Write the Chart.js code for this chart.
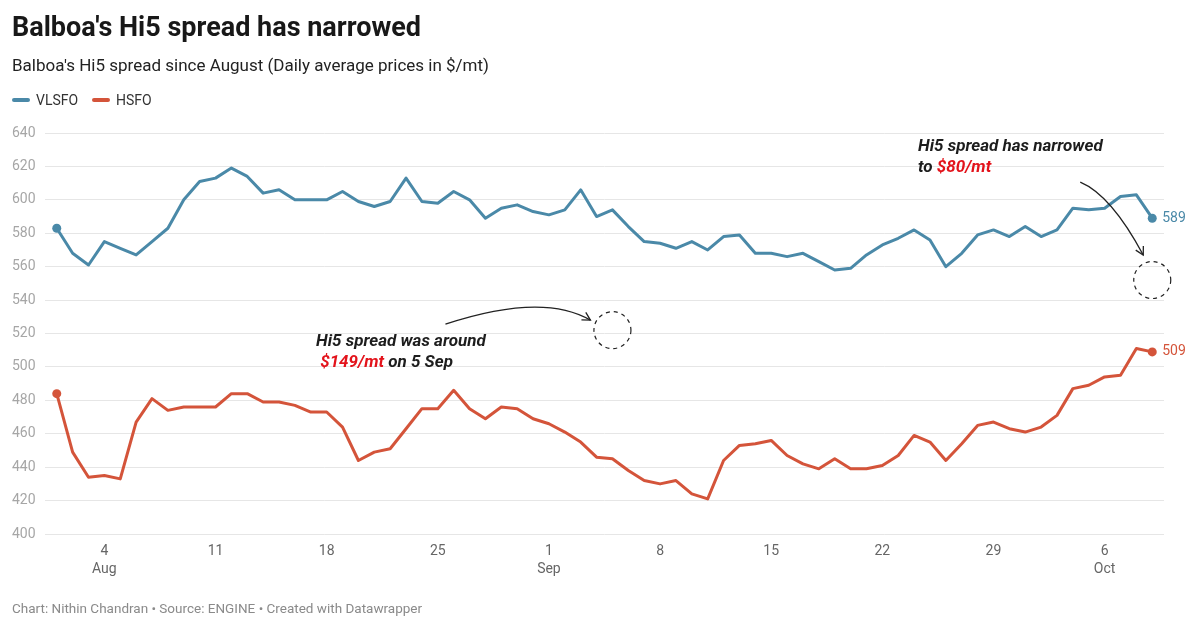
<!DOCTYPE html>
<html><head><meta charset="utf-8">
<script src="https://cdn.jsdelivr.net/npm/chart.js@4"></script>
<style>
body{margin:0;background:#fff;font-family:Roboto,sans-serif;}
#wrap{position:relative;width:1200px;height:630px;overflow:hidden;background:#fff;}
canvas{position:absolute;left:0;top:0;}
.t{position:absolute;white-space:nowrap;}
.ann{font-size:17px;font-weight:700;font-style:italic;line-height:21px;color:#1d1d1d;}
.red{color:#e3131b;}
.sw{position:absolute;width:18px;height:4px;border-radius:2px;}
</style></head><body>
<div id="wrap">
<canvas id="c" width="1200" height="630"></canvas>
<div class="t" style="left:12px;top:12px;font-size:27px;font-weight:700;line-height:31px;color:#181818">Balboa's Hi5 spread has narrowed</div>
<div class="t" style="left:12px;top:54px;font-size:17px;line-height:22px;color:#222">Balboa's Hi5 spread since August (Daily average prices in $/mt)</div>
<div class="sw" style="left:12px;top:98px;background:#4a89a8"></div>
<div class="t" style="left:36px;top:91px;font-size:14px;line-height:18px;color:#333">VLSFO</div>
<div class="sw" style="left:92px;top:98px;background:#d4543a"></div>
<div class="t" style="left:116px;top:91px;font-size:14px;line-height:18px;color:#333">HSFO</div>
<div class="t ann" style="left:316px;top:330px">Hi5 spread was around<br>&nbsp;<span class="red">$149/mt</span> on 5 Sep</div>
<div class="t ann" style="left:918px;top:135px">Hi5 spread has narrowed<br>to <span class="red">$80/mt</span></div>
<div class="t" style="left:12px;top:599px;font-size:13.5px;line-height:18px;color:#8a8a8a">Chart: Nithin Chandran • Source: ENGINE • Created with Datawrapper</div>
</div>
<script>
// Day labels (Aug 1 .. Oct 9), one per data point
const dayLabels = (function(){const out=[];const d=new Date(Date.UTC(2023,7,1));for(let i=0;i<70;i++){out.push(d.toISOString().slice(0,10));d.setUTCDate(d.getUTCDate()+1);}return out;})();
const vlsfo = [583,568,561,575,571,567,575,583,600,611,
               613,619,614,604,606,600,600,600,605,599,
               596,599,613,599,598,605,600,589,595,597,
               593,591,594,606,590,594,584,575,574,571,
               575,570,578,579,568,568,566,568,563,558,
               559,567,573,577,582,576,560,568,579,582,
               578,584,578,582,595,594,595,602,603,589];
const hsfo  = [484,449,434,435,433,467,481,474,476,476,
               476,484,484,479,479,477,473,473,464,444,
               449,451,463,475,475,486,475,469,476,475,
               469,466,461,455,446,445,438,432,430,432,
               424,421,444,453,454,456,447,442,439,445,
               439,439,441,447,459,455,444,454,465,467,
               463,461,464,471,487,489,494,495,511,509];
const xTickDays = [3,10,17,24,31,38,45,52,59,66];
const xTickLabels = [["4","Aug"],["11"],["18"],["25"],["1","Sep"],["8"],["15"],["22"],["29"],["6","Oct"]];
const yTicks = [400,420,440,460,480,500,520,540,560,580,600,620,640];

const BLUE = '#4a89a8', RED = '#d4543a';
Chart.defaults.font.family = 'Roboto';

const last = vlsfo.length - 1;
const ptR = ctx => (ctx.dataIndex === 0 || ctx.dataIndex === last) ? 4.5 : 0;

const annot = {
  id: 'annot',
  afterDatasetsDraw(chart) {
    const {ctx, scales:{x, y}} = chart;
    ctx.save();
    // end labels
    ctx.font = '14px Roboto';
    ctx.textBaseline = 'middle';
    ctx.textAlign = 'left';
    ctx.fillStyle = BLUE;
    ctx.fillText(String(vlsfo[last]), x.getPixelForValue(last) + 10, y.getPixelForValue(vlsfo[last]));
    ctx.fillStyle = RED;
    ctx.fillText(String(hsfo[last]), x.getPixelForValue(last) + 10, y.getPixelForValue(hsfo[last]));
    // dashed circles at the spread references
    const circles = [[35, 522], [69, 552]];
    ctx.strokeStyle = '#222';
    ctx.lineWidth = 1.2;
    ctx.setLineDash([4, 4]);
    const cp = circles.map(([dx, dy]) => [x.getPixelForValue(dx), y.getPixelForValue(dy)]);
    cp.forEach(([cx, cy]) => { ctx.beginPath(); ctx.arc(cx, cy, 18.5, 0, Math.PI*2); ctx.stroke(); });
    ctx.setLineDash([]);
    ctx.lineWidth = 1.3;
    function arrow(p0, c, p2) {
      ctx.beginPath(); ctx.moveTo(p0[0], p0[1]); ctx.quadraticCurveTo(c[0], c[1], p2[0], p2[1]); ctx.stroke();
      const a = Math.atan2(p2[1]-c[1], p2[0]-c[0]);
      const L = 9, s = 0.5;
      ctx.beginPath();
      ctx.moveTo(p2[0] - L*Math.cos(a - s), p2[1] - L*Math.sin(a - s));
      ctx.lineTo(p2[0], p2[1]);
      ctx.lineTo(p2[0] - L*Math.cos(a + s), p2[1] - L*Math.sin(a + s));
      ctx.stroke();
    }
    const [c1x, c1y] = cp[0], [c2x, c2y] = cp[1];
    arrow([c1x - 167, c1y - 6], [c1x - 70, c1y - 38], [c1x - 22, c1y - 10]);
    arrow([c2x - 72, c2y - 98], [c2x - 41, c2y - 85], [c2x - 9, c2y - 25]);
    ctx.restore();
  }
};

new Chart(document.getElementById('c'), {
  type: 'line',
  data: {
    datasets: [
      { label: 'VLSFO', data: vlsfo.map((v, i) => ({x: i, y: v})), borderColor: BLUE, backgroundColor: BLUE,
        borderWidth: 3, pointRadius: ptR, pointHoverRadius: 0, pointBorderWidth: 0, pointBackgroundColor: BLUE,
        borderJoinStyle: 'round', tension: 0 },
      { label: 'HSFO', data: hsfo.map((v, i) => ({x: i, y: v})), borderColor: RED, backgroundColor: RED,
        borderWidth: 3, pointRadius: ptR, pointHoverRadius: 0, pointBorderWidth: 0, pointBackgroundColor: RED,
        borderJoinStyle: 'round', tension: 0 }
    ]
  },
  options: {
    responsive: false,
    animation: false,
    events: [],
    layout: { padding: { left: 12, right: 36, top: 133, bottom: 46 } },
    plugins: { legend: { display: false }, tooltip: { enabled: false }, title: { display: false } },
    scales: {
      x: {
        type: 'linear', min: -0.74, max: 69.74,
        grid: { display: false, drawTicks: false },
        border: { display: false },
        afterBuildTicks: s => { s.ticks = xTickDays.map(v => ({value: v})); },
        afterFit: s => { s.height = 50; },
        ticks: {
          autoSkip: false, maxRotation: 0, padding: 8,
          color: '#666', font: { size: 14, lineHeight: 1.3 },
          callback: v => { const k = xTickDays.indexOf(v); return k >= 0 ? xTickLabels[k] : ''; }
        }
      },
      y: {
        min: 400, max: 640,
        grid: { color: '#e6e6e6', lineWidth: 1, drawTicks: false },
        border: { display: false },
        afterBuildTicks: s => { s.ticks = yTicks.map(v => ({value: v})); },
        afterFit: s => { s.width = 33; },
        ticks: { color: '#a6a6a6', font: { size: 14 }, padding: 0, crossAlign: 'far' }
      }
    }
  },
  plugins: [annot]
});
</script>
</body></html>
